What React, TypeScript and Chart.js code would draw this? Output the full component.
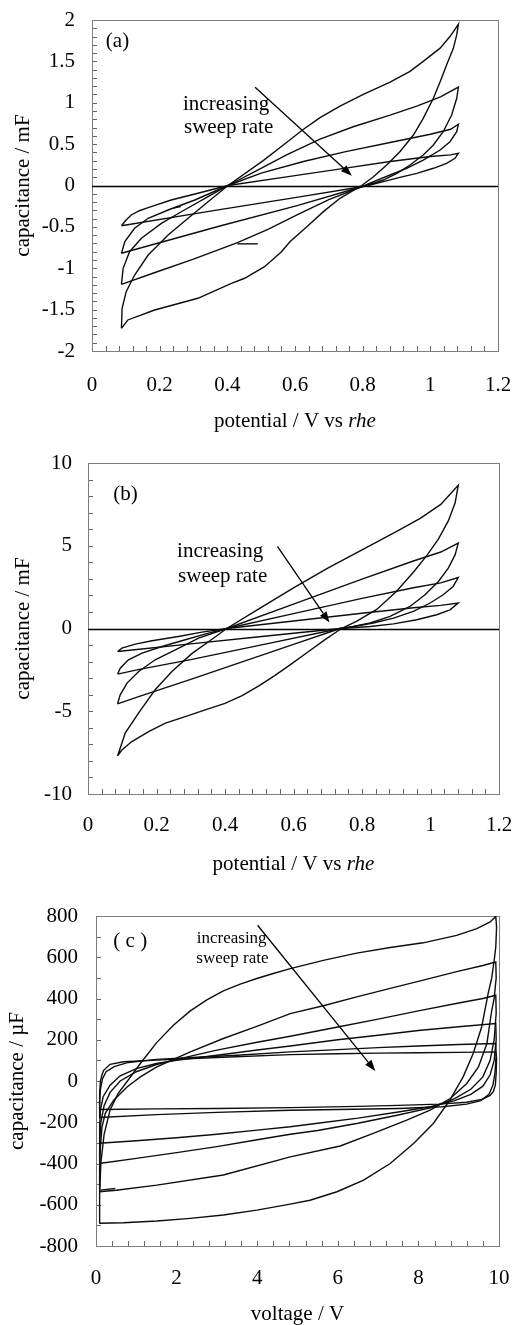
import React, { useEffect, useRef } from "react";
import { Chart, registerables } from "chart.js";

Chart.register(...registerables);

type Pt = [number, number];

const SERIF = "'Liberation Serif', 'Times New Roman', serif";

// ---------- (a) potential / V vs rhe  vs  capacitance / mF ----------
// each loop: forward sweep (min -> max) then reverse sweep (max -> min)
const aForward1: Pt[] = [[0.087,-0.486],[0.100,-0.42],[0.116,-0.356],[0.140,-0.305],[0.166,-0.268],[0.234,-0.175],[0.313,-0.094],[0.402,0],[0.585,0.11],[0.75,0.21],[0.881,0.29],[1.0,0.35],[1.06,0.37],[1.083,0.39]];
const aReverse1: Pt[] = [[1.073,0.329],[1.048,0.268],[1.009,0.208],[0.960,0.147],[0.910,0.099],[0.861,0.046],[0.822,0.006],[0.797,-0.015],[0.609,-0.14],[0.35,-0.31],[0.087,-0.486]];
const aForward2: Pt[] = [[0.087,-0.819],[0.097,-0.679],[0.126,-0.517],[0.166,-0.396],[0.225,-0.296],[0.304,-0.175],[0.402,0],[0.5,0.15],[0.625,0.29],[0.75,0.41],[0.881,0.52],[1.0,0.62],[1.06,0.68],[1.083,0.74]];
const aReverse2: Pt[] = [[1.078,0.650],[1.058,0.529],[1.029,0.429],[0.979,0.308],[0.930,0.208],[0.881,0.127],[0.832,0.046],[0.797,-0.015],[0.609,-0.24],[0.378,-0.49],[0.087,-0.819]];
const aForward3: Pt[] = [[0.087,-1.194],[0.092,-1.001],[0.111,-0.800],[0.146,-0.638],[0.205,-0.457],[0.264,-0.317],[0.343,-0.135],[0.402,0],[0.477,0.16],[0.575,0.37],[0.674,0.56],[0.772,0.71],[0.881,0.85],[0.96,0.96],[1.03,1.07],[1.083,1.19]];
const aReverse3: Pt[] = [[1.078,1.054],[1.063,0.852],[1.038,0.650],[1.009,0.489],[0.979,0.369],[0.940,0.248],[0.901,0.147],[0.861,0.066],[0.822,0.015],[0.797,-0.015],[0.70,-0.17],[0.609,-0.35],[0.52,-0.53],[0.43,-0.69],[0.30,-0.89],[0.18,-1.06],[0.087,-1.194]];
const aForward4: Pt[] = [[0.087,-1.726],[0.089,-1.484],[0.101,-1.283],[0.126,-1.082],[0.166,-0.840],[0.225,-0.598],[0.284,-0.396],[0.343,-0.196],[0.402,0],[0.506,0.30],[0.575,0.52],[0.625,0.68],[0.674,0.82],[0.733,0.96],[0.802,1.10],[0.881,1.25],[0.94,1.38],[0.979,1.50],[1.029,1.66],[1.058,1.80],[1.083,1.948]];
const aReverse4: Pt[] = [[1.078,1.819],[1.068,1.658],[1.048,1.456],[1.029,1.254],[1.009,1.054],[0.979,0.812],[0.950,0.610],[0.910,0.408],[0.871,0.248],[0.832,0.106],[0.797,0],[0.733,-0.155],[0.684,-0.316],[0.635,-0.498],[0.585,-0.679],[0.560,-0.800],[0.510,-0.981],[0.451,-1.121],[0.412,-1.182],[0.313,-1.363],[0.185,-1.505],[0.106,-1.625],[0.087,-1.726]];
const aStart1: Pt[] = [[0.49,-0.705],[0.43,-0.705]];
const aStart2: Pt[] = [[0.24,-0.274],[0.262,-0.254]];
const aXLabels = [0, 0.2, 0.4, 0.6, 0.8, 1, 1.2];
const aYLabels = [-2, -1.5, -1, -0.5, 0, 0.5, 1, 1.5, 2];

// ---------- (b) potential / V vs rhe  vs  capacitance / mF ----------
const bForward1: Pt[] = [[0.0864,-1.39],[0.099,-1.19],[0.138,-0.94],[0.187,-0.74],[0.264,-0.48],[0.333,-0.22],[0.405,0],[0.6,0.45],[0.8,0.92],[0.95,1.25],[1.03,1.40],[1.081,1.54]];
const bReverse1: Pt[] = [[1.057,1.13],[1.018,0.83],[0.960,0.53],[0.892,0.28],[0.824,0.12],[0.736,0],[0.5,-0.50],[0.3,-0.93],[0.15,-1.25],[0.0864,-1.39]];
const bForward2: Pt[] = [[0.0864,-2.76],[0.094,-2.40],[0.118,-1.89],[0.158,-1.49],[0.216,-1.09],[0.284,-0.68],[0.352,-0.28],[0.405,0],[0.6,0.90],[0.8,1.82],[0.95,2.46],[1.03,2.76],[1.081,3.08]];
const bReverse2: Pt[] = [[1.066,2.54],[1.037,2.04],[0.999,1.54],[0.950,1.03],[0.892,0.63],[0.833,0.33],[0.775,0.12],[0.736,0],[0.5,-1.02],[0.3,-1.88],[0.15,-2.47],[0.0864,-2.76]];
const bForward3: Pt[] = [[0.0864,-4.55],[0.094,-4.01],[0.114,-3.30],[0.148,-2.60],[0.196,-1.89],[0.255,-1.29],[0.323,-0.58],[0.405,0],[0.6,1.47],[0.8,2.98],[0.95,4.08],[1.03,4.62],[1.081,5.16]];
const bReverse3: Pt[] = [[1.072,4.46],[1.052,3.65],[1.023,2.84],[0.984,2.04],[0.940,1.33],[0.882,0.73],[0.824,0.33],[0.765,0.08],[0.736,0],[0.6,-0.96],[0.45,-2.02],[0.3,-3.07],[0.15,-4.10],[0.0864,-4.55]];
const bForward4: Pt[] = [[0.0864,-7.70],[0.109,-6.3],[0.148,-5.1],[0.196,-3.7],[0.245,-2.6],[0.303,-1.52],[0.362,-0.65],[0.405,0],[0.5,1.2],[0.6,2.45],[0.7,3.65],[0.8,4.75],[0.9,5.85],[0.97,6.65],[1.03,7.5],[1.081,8.65]];
const bReverse4: Pt[] = [[1.072,7.6],[1.052,6.5],[1.023,5.4],[0.989,4.4],[0.950,3.4],[0.901,2.25],[0.843,1.15],[0.785,0.45],[0.74,0],[0.69,-0.70],[0.64,-1.45],[0.59,-2.2],[0.545,-2.85],[0.50,-3.45],[0.45,-4.05],[0.40,-4.52],[0.342,-4.92],[0.284,-5.32],[0.226,-5.72],[0.177,-6.23],[0.128,-6.83],[0.099,-7.34],[0.0864,-7.70]];
const bXLabels = [0, 0.2, 0.4, 0.6, 0.8, 1, 1.2];
const bYLabels = [-10, -5, 0, 5, 10];

// ---------- (c) voltage / V  vs  capacitance / µF ----------
const cForward1: Pt[] = [[0.08,-138],[0.09,-60],[0.11,0],[0.15,30],[0.19,52],[0.35,81],[0.68,93],[1.5,101],[3,114],[4.82,128],[6,132],[7,135],[8,137],[9,139],[9.92,141]];
const cReverse1: Pt[] = [[9.94,110],[9.93,40],[9.91,-20],[9.86,-50],[9.78,-70],[9.6,-88],[9.2,-103],[8.5,-112],[7.5,-118],[6.5,-123],[4.82,-129],[3,-133],[1.5,-135],[0.08,-138]];
const cForward2: Pt[] = [[0.08,-177],[0.09,-100],[0.11,-40],[0.16,10],[0.25,45],[0.45,70],[0.8,90],[1.5,105],[2.5,115],[3.5,125],[4.82,141],[6,152],[7,162],[8,170],[9,177],[9.92,182]];
const cReverse2: Pt[] = [[9.93,120],[9.9,40],[9.85,-20],[9.75,-65],[9.55,-95],[9.2,-112],[8.6,-125],[7.5,-133],[6,-138],[4.82,-142],[3,-152],[1.5,-163],[0.08,-177]];
const cForward3: Pt[] = [[0.08,-302],[0.09,-220],[0.11,-140],[0.18,-75],[0.35,-20],[0.6,25],[1.0,60],[1.5,85],[2,100],[3,125],[4,150],[4.82,170],[6,200],[7,222],[8,245],[9,263],[9.92,279]];
const cReverse3: Pt[] = [[9.93,200],[9.88,100],[9.78,30],[9.6,-25],[9.3,-65],[8.9,-95],[8.3,-125],[7.5,-150],[6.5,-180],[5.5,-205],[4.82,-222],[4,-238],[3,-258],[2,-275],[1,-290],[0.08,-302]];
const cForward4: Pt[] = [[0.08,-400],[0.09,-300],[0.12,-200],[0.2,-120],[0.35,-55],[0.6,0],[1.0,45],[1.5,80],[2,105],[3,150],[4,188],[4.82,217],[6,262],[7,300],[8,340],[9,378],[9.6,400],[9.92,416]];
const cReverse4: Pt[] = [[9.93,330],[9.88,200],[9.78,100],[9.6,20],[9.3,-40],[8.9,-85],[8.3,-130],[7.5,-165],[6.5,-205],[5.5,-240],[4.82,-258],[4,-285],[3,-318],[2,-347],[1,-375],[0.08,-400]];
const cForward5: Pt[] = [[0.08,-537],[0.09,-420],[0.11,-320],[0.15,-222],[0.23,-157],[0.44,-93],[0.77,-29],[1.10,20],[1.51,68],[2.34,141],[3.16,206],[3.99,265],[4.82,327],[5.64,365],[6.47,408],[7.30,449],[8.12,489],[8.95,530],[9.6,560],[9.92,577]];
const cReverse5: Pt[] = [[9.93,500],[9.88,400],[9.82,343],[9.70,182],[9.49,68],[9.20,-12],[8.79,-85],[8.29,-141],[7.71,-190],[6.88,-254],[6.06,-315],[4.82,-368],[3.16,-456],[1.51,-505],[0.5,-530],[0.08,-537]];
const cForward6: Pt[] = [[0.08,-690],[0.09,-550],[0.12,-400],[0.2,-260],[0.35,-140],[0.55,-60],[0.8,5],[1.1,85],[1.5,185],[1.92,270],[2.34,340],[2.75,393],[3.16,437],[3.58,470],[3.99,497],[4.40,521],[4.82,545],[5.64,585],[6.47,620],[7.30,647],[8.12,670],[8.95,706],[9.45,739],[9.78,771],[9.92,798]];
const cReverse6: Pt[] = [[9.94,747],[9.92,650],[9.88,585],[9.82,500],[9.73,424],[9.57,262],[9.36,133],[9.11,20],[8.78,-93],[8.37,-206],[7.88,-303],[7.30,-400],[6.64,-481],[5.98,-537],[5.31,-578],[4.82,-597],[3.99,-626],[3.16,-650],[2.34,-666],[1.51,-679],[0.68,-687],[0.08,-690]];
const cStart5: Pt[] = [[0.48,-521],[0.11,-529]];
const cXLabels = [0, 2, 4, 6, 8, 10];
const cYLabels = [-800, -600, -400, -200, 0, 200, 400, 600, 800];

interface Note { text: string; x: number; y: number; size: number }
interface TitlePart { text: string; italic?: boolean }
interface PanelSpec {
  top: number;
  width: number;
  height: number;
  area: { left: number; top: number; right: number; bottom: number };
  xRange: [number, number];
  xStep: number;
  xLabels: number[];
  yRange: [number, number];
  yStep: number;
  yLabels: number[];
  xLabelPad: number;
  yLabelPad: number;
  loops: Pt[][];
  starts: Pt[][];
  zeroLine: boolean;
  xTitle: TitlePart[];
  xTitleBaseline: number;
  yTitle: string;
  yTitleBaseline: number;
  notes: Note[];
  arrow: [Pt, Pt];
}

const panels: PanelSpec[] = [
  {
    top: 0, width: 514, height: 440,
    area: { left: 92, top: 20, right: 498, bottom: 351 },
    xRange: [0, 1.2], xStep: 0.04, xLabels: aXLabels,
    yRange: [-2, 2], yStep: 0.1, yLabels: aYLabels,
    xLabelPad: 22, yLabelPad: 17,
    loops: [aForward1.concat(aReverse1), aForward2.concat(aReverse2), aForward3.concat(aReverse3), aForward4.concat(aReverse4)],
    starts: [aStart1, aStart2],
    zeroLine: true,
    xTitle: [{ text: "potential / V vs " }, { text: "rhe", italic: true }],
    xTitleBaseline: 427,
    yTitle: "capacitance / mF",
    yTitleBaseline: 29,
    notes: [
      { text: "(a)", x: 0.041, y: 1.674, size: 21 },
      { text: "increasing", x: 0.269, y: 0.912, size: 21 },
      { text: "sweep rate", x: 0.272, y: 0.638, size: 21 },
    ],
    arrow: [[0.482, 1.187], [0.768, 0.118]],
  },
  {
    top: 440, width: 514, height: 440,
    area: { left: 88, top: 23, right: 499, bottom: 354 },
    xRange: [0, 1.2], xStep: 0.04, xLabels: bXLabels,
    yRange: [-10, 10], yStep: 1, yLabels: bYLabels,
    xLabelPad: 19, yLabelPad: 16,
    loops: [bForward1.concat(bReverse1), bForward2.concat(bReverse2), bForward3.concat(bReverse3), bForward4.concat(bReverse4)],
    starts: [],
    zeroLine: true,
    xTitle: [{ text: "potential / V vs " }, { text: "rhe", italic: true }],
    xTitleBaseline: 430,
    yTitle: "capacitance / mF",
    yTitleBaseline: 29,
    notes: [
      { text: "(b)", x: 0.074, y: 7.78, size: 21 },
      { text: "increasing", x: 0.26, y: 4.35, size: 21 },
      { text: "sweep rate", x: 0.263, y: 2.78, size: 21 },
    ],
    arrow: [[0.553, 4.96], [0.705, 0.36]],
  },
  {
    top: 880, width: 514, height: 445,
    area: { left: 96, top: 36, right: 499, bottom: 366 },
    xRange: [0, 10], xStep: 0.4, xLabels: cXLabels,
    yRange: [-800, 800], yStep: 100, yLabels: cYLabels,
    xLabelPad: 20, yLabelPad: 18,
    loops: [cForward1.concat(cReverse1), cForward2.concat(cReverse2), cForward3.concat(cReverse3), cForward4.concat(cReverse4), cForward5.concat(cReverse5), cForward6.concat(cReverse6)],
    starts: [cStart5],
    zeroLine: false,
    xTitle: [{ text: "voltage / V" }],
    xTitleBaseline: 440,
    yTitle: "capacitance / µF",
    yTitleBaseline: 23,
    notes: [
      { text: "( c )", x: 0.43, y: 650, size: 21 },
      { text: "increasing", x: 2.5, y: 671, size: 17 },
      { text: "sweep rate", x: 2.49, y: 572, size: 17 },
    ],
    arrow: [[4.01, 755], [6.93, 49]],
  },
];

const isListed = (list: number[], v: number) => list.some((l) => Math.abs(l - v) < 1e-9);
const fmt = (v: number) => String(Number(v.toFixed(2)));

function decorations(spec: PanelSpec) {
  return {
    id: "decorations",
    beforeDatasetsDraw(chart: any) {
      const { ctx, chartArea: a, scales } = chart;
      const x = scales.x;
      const y = scales.y;
      ctx.save();
      // inward tick marks on the bottom and left edges
      ctx.strokeStyle = "#666";
      ctx.lineWidth = 1;
      ctx.beginPath();
      x.ticks.forEach((t: any) => {
        const px = Math.round(x.getPixelForValue(t.value)) + 0.5;
        ctx.moveTo(px, a.bottom);
        ctx.lineTo(px, a.bottom - 5);
      });
      y.ticks.forEach((t: any) => {
        const py = Math.round(y.getPixelForValue(t.value)) + 0.5;
        ctx.moveTo(a.left, py);
        ctx.lineTo(a.left + 5, py);
      });
      ctx.stroke();
      // plot frame
      ctx.strokeStyle = "#7d7d7d";
      ctx.strokeRect(Math.round(a.left) + 0.5, Math.round(a.top) + 0.5, Math.round(a.right - a.left), Math.round(a.bottom - a.top));
      if (spec.zeroLine) {
        const py = Math.round(y.getPixelForValue(0)) + 0.5;
        ctx.strokeStyle = "#000";
        ctx.lineWidth = 1.3;
        ctx.beginPath();
        ctx.moveTo(a.left, py);
        ctx.lineTo(a.right, py);
        ctx.stroke();
      }
      ctx.restore();
    },
    afterDraw(chart: any) {
      const { ctx, chartArea: a, scales } = chart;
      const x = scales.x;
      const y = scales.y;
      ctx.save();
      ctx.fillStyle = "#000";
      ctx.strokeStyle = "#000";
      // in-plot notes
      ctx.textAlign = "left";
      ctx.textBaseline = "alphabetic";
      spec.notes.forEach((n) => {
        ctx.font = `${n.size}px ${SERIF}`;
        ctx.fillText(n.text, x.getPixelForValue(n.x), y.getPixelForValue(n.y));
      });
      // arrow
      const [p0, p1] = spec.arrow;
      const x0 = x.getPixelForValue(p0[0]);
      const y0 = y.getPixelForValue(p0[1]);
      const x1 = x.getPixelForValue(p1[0]);
      const y1 = y.getPixelForValue(p1[1]);
      const ang = Math.atan2(y1 - y0, x1 - x0);
      const head = 11;
      const half = 4;
      const bx = x1 - head * Math.cos(ang);
      const by = y1 - head * Math.sin(ang);
      ctx.lineWidth = 1.3;
      ctx.beginPath();
      ctx.moveTo(x0, y0);
      ctx.lineTo(bx, by);
      ctx.stroke();
      ctx.beginPath();
      ctx.moveTo(x1, y1);
      ctx.lineTo(bx + half * Math.sin(ang), by - half * Math.cos(ang));
      ctx.lineTo(bx - half * Math.sin(ang), by + half * Math.cos(ang));
      ctx.closePath();
      ctx.fill();
      // x axis title (may mix upright and italic runs)
      const cx = (a.left + a.right) / 2;
      const fontOf = (p: TitlePart) => `${p.italic ? "italic " : ""}21px ${SERIF}`;
      let total = 0;
      spec.xTitle.forEach((p) => {
        ctx.font = fontOf(p);
        total += ctx.measureText(p.text).width;
      });
      let cursor = cx - total / 2;
      spec.xTitle.forEach((p) => {
        ctx.font = fontOf(p);
        ctx.fillText(p.text, cursor, spec.xTitleBaseline);
        cursor += ctx.measureText(p.text).width;
      });
      // y axis title
      ctx.font = `21px ${SERIF}`;
      ctx.textAlign = "center";
      ctx.translate(spec.yTitleBaseline, (a.top + a.bottom) / 2);
      ctx.rotate(-Math.PI / 2);
      ctx.fillText(spec.yTitle, 0, 0);
      ctx.restore();
    },
  };
}

function Panel({ spec }: { spec: PanelSpec }) {
  const ref = useRef<HTMLCanvasElement>(null);
  useEffect(() => {
    const canvas = ref.current;
    if (!canvas) return;
    const lineStyle = {
      showLine: true,
      borderColor: "#0d0d0d",
      borderWidth: 1.4,
      pointRadius: 0,
      pointHoverRadius: 0,
      tension: 0,
      fill: false,
    };
    const datasets = [...spec.loops, ...spec.starts].map((pts) => ({
      ...lineStyle,
      data: pts.map(([px, py]) => ({ x: px, y: py })),
    }));
    const tickFont = { family: SERIF, size: 21 };
    const chart = new Chart(canvas, {
      type: "scatter",
      data: { datasets },
      plugins: [decorations(spec)],
      options: {
        animation: false,
        responsive: false,
        devicePixelRatio: 1,
        events: [],
        layout: {
          autoPadding: false,
          padding: { left: 0, top: spec.area.top, right: spec.width - spec.area.right, bottom: 0 },
        },
        plugins: { legend: { display: false }, tooltip: { enabled: false } },
        scales: {
          x: {
            type: "linear",
            min: spec.xRange[0],
            max: spec.xRange[1],
            grid: { display: false, drawTicks: false },
            border: { display: false },
            ticks: {
              stepSize: spec.xStep,
              autoSkip: false,
              maxRotation: 0,
              minRotation: 0,
              padding: spec.xLabelPad,
              color: "#000",
              font: tickFont,
              callback: (v: any) => (isListed(spec.xLabels, Number(v)) ? fmt(Number(v)) : ""),
            },
            afterFit: (s: any) => {
              s.height = spec.height - spec.area.bottom;
              s.paddingLeft = 0;
              s.paddingRight = 0;
            },
          },
          y: {
            type: "linear",
            min: spec.yRange[0],
            max: spec.yRange[1],
            grid: { display: false, drawTicks: false },
            border: { display: false },
            ticks: {
              stepSize: spec.yStep,
              autoSkip: false,
              padding: spec.yLabelPad,
              color: "#000",
              font: tickFont,
              callback: (v: any) => (isListed(spec.yLabels, Number(v)) ? fmt(Number(v)) : ""),
            },
            afterFit: (s: any) => {
              s.width = spec.area.left;
              s.paddingTop = 0;
              s.paddingBottom = 0;
            },
          },
        },
      } as any,
    });
    return () => chart.destroy();
  }, [spec]);
  return (
    <canvas
      ref={ref}
      width={spec.width}
      height={spec.height}
      style={{ position: "absolute", left: 0, top: spec.top, width: spec.width, height: spec.height }}
    />
  );
}

export default function App() {
  return (
    <div style={{ position: "absolute", left: 0, top: 0, width: 514, height: 1325, background: "#fff", overflow: "hidden" }}>
      {panels.map((p, i) => (
        <Panel key={i} spec={p} />
      ))}
    </div>
  );
}
